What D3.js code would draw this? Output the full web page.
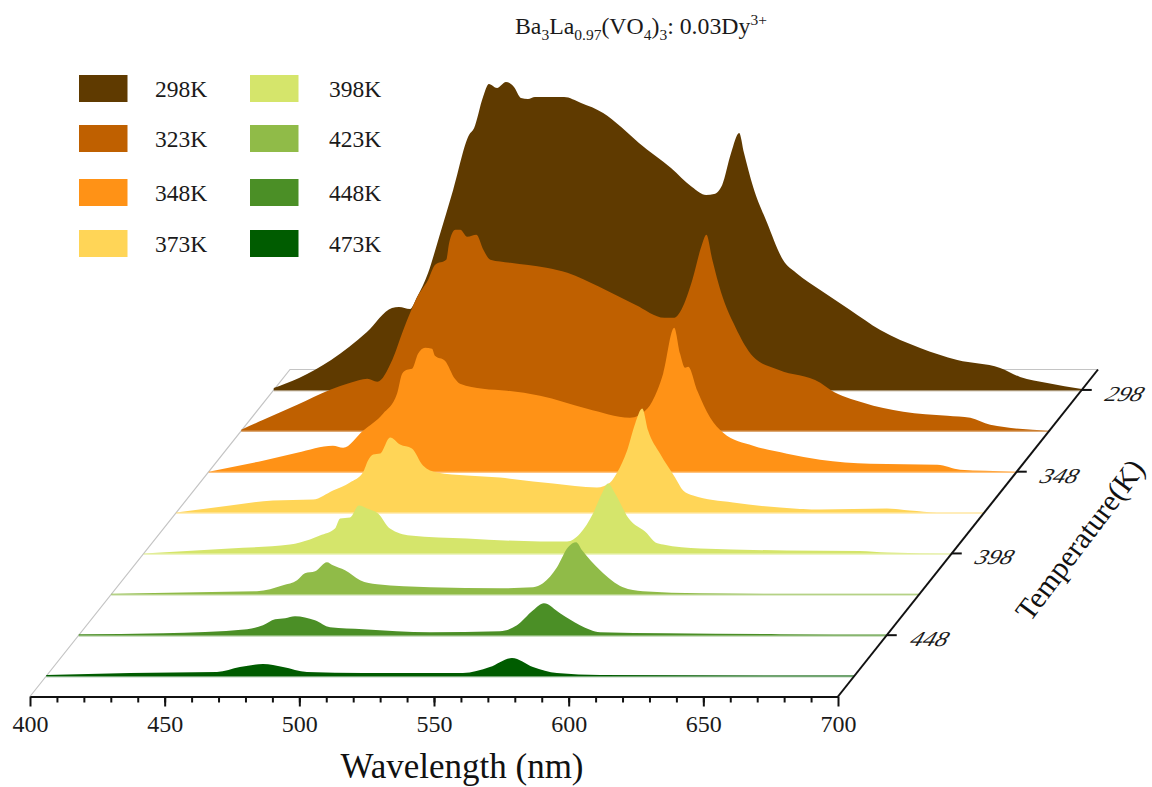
<!DOCTYPE html>
<html>
<head>
<meta charset="utf-8">
<title>Ba3La0.97(VO4)3: 0.03Dy3+</title>
<script src="https://cdn.jsdelivr.net/npm/d3@7"></script>
<style>
  html, body { margin: 0; padding: 0; background: #fff; }
  svg { display: block; font-family: "Liberation Serif", serif; }
</style>
</head>
<body>
<svg width="1152" height="787"></svg>
<script>
'use strict';

// wavelength (nm) and intensity (a.u.) for each temperature
var temperatures = [298, 323, 348, 373, 398, 423, 448, 473];
var tempTicks = [298, 348, 398, 448];
var wlTicks = [400, 450, 500, 550, 600, 650, 700];
var wlMinor = d3.range(410, 700, 10);

var wl298 = [400, 409.4, 421.3, 434.6, 443.9, 446.5, 450.6, 453.2, 457.3, 461.4, 466.6, 472.5, 474.4, 477.7, 479.9, 482.9, 486.2, 489.2, 491.8, 494.4, 497, 507.8, 514.1, 522.3, 529, 535.6, 547.5, 555.3, 560.5, 563.5, 566.5, 569.8, 572.8, 574.6, 578, 583.2, 589.1, 594, 602.9, 614, 625.2, 640, 653.8, 669.7, 677.1, 687.2, 700];
var i298 = [2, 12, 30, 58, 82, 83, 81, 93, 117, 153, 200, 255, 262, 293, 306, 302, 308, 303, 292, 291, 293, 293, 287, 277, 263, 247, 222, 203, 195, 196, 205, 237, 257, 237, 203, 167, 130, 117, 100, 80, 60, 42, 30, 22, 13, 7, 1];

var wl323 = [400, 408.2, 420.8, 433, 440.5, 446.8, 450.5, 456.1, 460.2, 465.4, 469.4, 472, 476.1, 477.2, 479.5, 481.3, 483.9, 487.3, 489.9, 492.5, 499.9, 513.3, 521.1, 532.9, 546.3, 557.1, 560.8, 563.4, 567.5, 570.8, 572.7, 574.9, 578.2, 583.4, 590.1, 599.4, 615, 618.7, 631, 645.8, 662.2, 670.7, 678.1, 700];
var i323 = [1, 11, 26, 41, 48, 52, 49, 71, 101, 134, 151, 166, 171, 188, 201, 201, 194, 196, 181, 171, 168, 163, 158, 144, 126, 113, 113, 121, 151, 184, 196, 171, 138, 104, 74, 61, 48, 41, 28, 19, 15, 13, 6, 0];

var wl348 = [400, 420.1, 432.8, 446.1, 449.9, 457.3, 464.7, 469.9, 471.8, 473.6, 475.5, 477.7, 480.3, 482.9, 484, 487.7, 491.4, 493.3, 501.8, 510.8, 523, 540.5, 556.4, 562.8, 566.5, 568.7, 572.8, 575, 576.9, 578, 581.4, 586.2, 591, 602.1, 614.7, 627, 645.6, 670.5, 679, 688.3, 700];
var i348 = [0, 11, 19, 26, 24, 41, 58, 78, 98, 102, 103, 118, 124, 123, 116, 111, 93, 88, 83, 81, 76, 63, 54, 63, 81, 98, 144, 118, 104, 105, 81, 54, 39, 26, 18, 12, 8, 7, 2, 1, 0];

var wl373 = [400, 420, 435.9, 450.8, 458.2, 464.5, 469.3, 471.2, 473.1, 475.7, 479.4, 483.1, 487.5, 491.6, 496.8, 507.9, 520.2, 532.5, 539.9, 556.2, 561.1, 563.7, 567.4, 570.4, 573, 575.2, 579.6, 585.2, 588.2, 591.9, 606.7, 624.2, 639, 663.9, 672.4, 682.5, 700];
var i373 = [0, 7, 12, 13, 22, 30, 40, 52, 58, 59, 75, 68, 64, 47, 40, 37, 35, 31, 29, 25, 30, 40, 62, 89, 104, 82, 59, 35, 22, 17, 10, 5, 3, 4, 2, 0, 0];

var wl398 = [400, 432, 454.3, 458, 465.4, 471, 472.9, 476.6, 479.9, 482.9, 487, 491.4, 498.9, 520, 547.2, 557.2, 562, 566.8, 570.1, 572.4, 575, 579.8, 586.9, 590, 592.8, 606.6, 638.8, 665.9, 676, 700];
var i398 = [0, 5, 9, 11, 18, 25, 35, 36, 48, 45, 40, 25, 18, 15, 12, 12, 20, 40, 60, 70, 60, 36, 20, 11, 9, 5, 3, 2.5, 1, 0];

var wl423 = [400, 431.8, 454.1, 463.8, 469, 471.9, 475.7, 480.1, 482.3, 486.8, 492.4, 498.7, 518.4, 544.4, 556.6, 560.3, 565.5, 569.6, 572.6, 574.8, 581.5, 590, 597.4, 618.6, 648.3, 700];
var i423 = [0.5, 2, 3, 9, 14, 21, 23, 32, 29, 24, 14, 10, 7, 6, 7, 11, 27, 47, 52, 44, 24, 7, 3, 1, 0.5, 0.5];

var wl448 = [400, 431.3, 462.5, 468.4, 472.9, 476.6, 480.3, 487.7, 493.3, 505.6, 530.4, 556.4, 562.7, 568.7, 572.7, 578.7, 586.1, 593.6, 618.4, 660.4, 700];
var i448 = [1, 2, 6, 10, 16, 17, 19, 15, 8, 6, 3, 4, 10, 25, 32, 22, 10, 3, 2, 1, 0.8];

var wl473 = [400, 431.1, 463.4, 471.9, 480.5, 487.9, 496.8, 517.6, 554.7, 564.7, 572.9, 580.7, 589.6, 605.6, 672.4, 700];
var i473 = [1, 3, 4, 9, 12, 9, 4, 3, 3, 9, 18, 9, 3, 1, 0.5, 0.5];

var wavelengths = [wl298, wl323, wl348, wl373, wl398, wl423, wl448, wl473];
var intensities = [i298, i323, i348, i373, i398, i423, i448, i473];
var colors = ['#5f3a00', '#bf6000', '#ff9216', '#ffd557', '#d5e56b', '#90bb48', '#4b8f26', '#005c00'];

var svg = d3.select('svg');

// oblique frame: wavelength runs along the front edge, temperature runs back and to the right
var x = d3.scaleLinear().domain([400, 700]).range([30, 838]);
var y = d3.scaleLinear().domain([0, 310]).range([0, -310]);
var depthX = d3.scaleLinear().domain([485.5, 285.5]).range([0, 260]);
var depthY = d3.scaleLinear().domain([485.5, 285.5]).range([696.5, 369.5]);

var frame = [[400, 485.5], [400, 285.5], [700, 285.5]];
svg.append('path')
  .attr('d', d3.line()
    .x(function (d) { return x(d[0]) + depthX(d[1]); })
    .y(function (d) { return depthY(d[1]); })(frame))
  .attr('fill', 'none')
  .attr('stroke', '#c4c4c4')
  .attr('stroke-width', 1.2);

var area = d3.area()
  .curve(d3.curveMonotoneX)
  .x(function (d) { return x(d[0]); })
  .y0(y(0))
  .y1(function (d) { return y(d[1]); });

// back series first so nearer ones sit on top
temperatures.forEach(function (t, s) {
  var points = d3.zip(wavelengths[s], intensities[s]);
  var g = svg.append('g')
    .attr('class', 'series')
    .attr('transform', 'translate(' + depthX(t) + ',' + depthY(t) + ')');
  g.append('line')
    .attr('x1', x(400))
    .attr('x2', x(700))
    .attr('y1', 0.5)
    .attr('y2', 0.5)
    .attr('stroke', colors[s])
    .attr('stroke-opacity', 0.55)
    .attr('stroke-width', 1.5);
  g.append('path')
    .datum(points)
    .attr('d', area)
    .attr('fill', colors[s]);
});

// wavelength axis
var axisG = svg.append('g')
  .attr('transform', 'translate(0,696.5)');

axisG.append('g')
  .call(d3.axisBottom(x).tickValues(wlMinor).tickSize(6).tickFormat(''))
  .call(function (g) { g.select('.domain').remove(); });

axisG.append('g')
  .call(d3.axisBottom(x).tickValues(wlTicks).tickSize(10).tickSizeOuter(0).tickPadding(8))
  .call(function (g) {
    g.selectAll('text').attr('font-size', 24).attr('font-family', '"Liberation Serif", serif').attr('fill', '#1a1a1a');
  });

axisG.selectAll('line').attr('stroke', '#111').attr('stroke-width', 2);
axisG.selectAll('.domain').attr('stroke', '#111').attr('stroke-width', 2);

// temperature axis
svg.append('line')
  .attr('x1', x(700) + depthX(485.5))
  .attr('y1', depthY(485.5))
  .attr('x2', x(700) + depthX(285.5))
  .attr('y2', depthY(285.5))
  .attr('stroke', '#111')
  .attr('stroke-width', 2);

var tempTick = svg.selectAll('.temp-tick')
  .data(tempTicks)
  .enter().append('g')
  .attr('class', 'temp-tick')
  .attr('transform', function (d) {
    return 'translate(' + (x(700) + depthX(d)) + ',' + depthY(d) + ')';
  });

tempTick.append('line')
  .attr('x2', 10)
  .attr('stroke', '#111')
  .attr('stroke-width', 2);

tempTick.append('text')
  .attr('transform', 'translate(22,11) skewX(-20) scale(1.08,0.92)')
  .attr('font-size', 23)
  .attr('font-style', 'italic')
  .attr('fill', '#1a1a1a')
  .text(String);

svg.append('text')
  .attr('transform', 'translate(1088,546) rotate(-53)')
  .attr('text-anchor', 'middle')
  .attr('font-size', 30)
  .attr('fill', '#111')
  .text('Temperature(K)');

svg.append('text')
  .attr('x', 462)
  .attr('y', 778)
  .attr('text-anchor', 'middle')
  .attr('font-size', 35)
  .attr('fill', '#111')
  .text('Wavelength (nm)');

// title with sub and superscripts
var titleParts = [
  ['Ba', 0], ['3', 1], ['La', 0], ['0.97', 1], ['(VO', 0], ['4', 1], [')', 0], ['3', 1], [': 0.03Dy', 0], ['3+', 2]
];
var title = svg.append('text')
  .attr('x', 515)
  .attr('y', 34)
  .attr('fill', '#1a1a1a');
var shift = 0;
titleParts.forEach(function (p) {
  var target = p[1] === 1 ? 6 : p[1] === 2 ? -9 : 0;
  title.append('tspan')
    .attr('dy', target - shift)
    .attr('font-size', p[1] ? 15.5 : 23.8)
    .text(p[0]);
  shift = target;
});

// legend
var legendCols = [[79, 155], [250, 329]];
var legendRows = [75, 125, 179, 230];
var legend = svg.selectAll('.legend')
  .data(temperatures)
  .enter().append('g')
  .attr('class', 'legend')
  .attr('transform', function (d, i) {
    return 'translate(0,' + legendRows[i % 4] + ')';
  });

legend.append('rect')
  .attr('x', function (d, i) { return legendCols[Math.floor(i / 4)][0]; })
  .attr('width', 48.5)
  .attr('height', 27)
  .attr('fill', function (d, i) { return colors[i]; });

legend.append('text')
  .attr('x', function (d, i) { return legendCols[Math.floor(i / 4)][1]; })
  .attr('y', 22)
  .attr('font-size', 23.5)
  .attr('fill', '#1a1a1a')
  .text(function (d) { return d + 'K'; });
</script>
</body>
</html>
